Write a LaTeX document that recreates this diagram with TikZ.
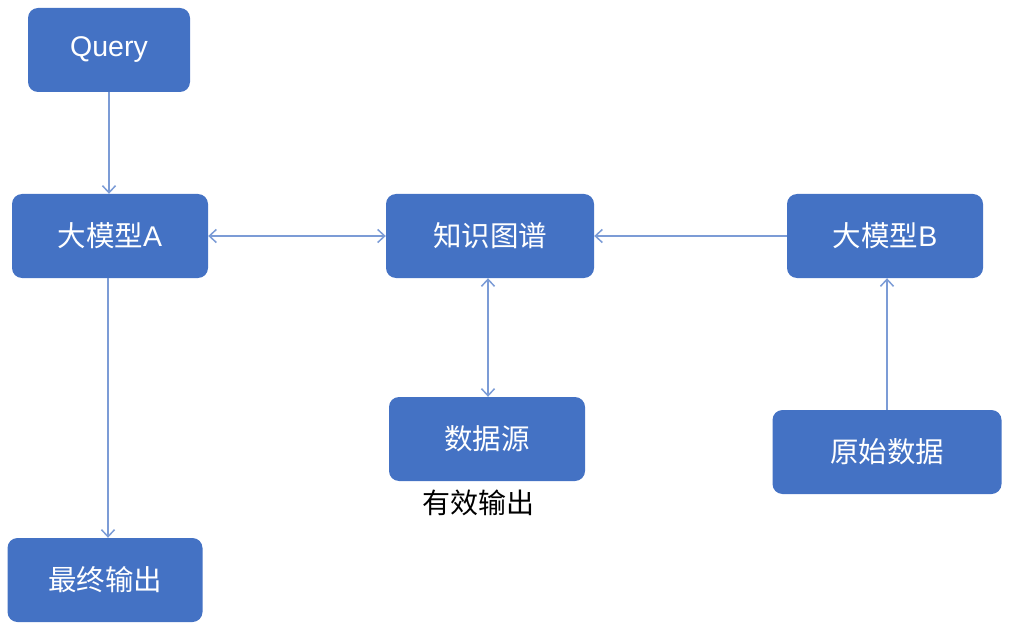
\documentclass[tikz,border=0pt]{standalone}
\usepackage{fontspec}
\setmainfont{Liberation Sans}
\newfontfamily\cjk{Noto Sans CJK SC}
\usetikzlibrary{arrows.meta,positioning}
\definecolor{boxblue}{RGB}{68,114,196}
\definecolor{lineblue}{RGB}{124,156,214}

\begin{document}
\begin{tikzpicture}[x=1pt, y=-1pt,
    box/.style={fill=boxblue, rounded corners=10pt, text=white, minimum height=84pt, inner sep=0pt, font=\fontsize{28.5}{32}\selectfont},
    link/.style={draw=lineblue, line width=1.5pt, -{Straight Barb[length=7pt,width=13pt]}},
    twoway/.style={link, {Straight Barb[length=7pt,width=13pt]}-{Straight Barb[length=7pt,width=13pt]}}]
  \useasboundingbox (0,0) rectangle (1014,628);
  % left column
  \node[box, minimum width=162pt] (query) at (109,50) {Query};
  \node[box, minimum width=196pt] (modelA) at (110,236) {\cjk 大模型\normalfont A};
  \node[box, minimum width=195pt] (final) at (105,580) {\cjk 最终输出};
  % middle
  \node[box, minimum width=208pt] (kg) at (490,236) {\cjk 知识图谱};
  \node[box, minimum width=196pt] (source) at (487,439) {\cjk 数据源};
  \node[below=5pt of source, font=\fontsize{28}{32}\selectfont\cjk, xshift=-9pt] (valid) {有效输出};
  % right
  \node[box, minimum width=196pt] (modelB) at (885,236) {\cjk 大模型\normalfont B};
  \node[box, minimum width=229pt] (raw) at (887,452) {\cjk 原始数据};

  \draw[link] (query) -- (query |- modelA.north);
  \draw[twoway] (modelA) -- (kg);
  \draw[link] (modelB) -- (kg);
  \draw[twoway] ([xshift=-2pt]kg.south) -- ([xshift=-2pt]kg.south |- source.north);
  \draw[link] (raw) -- (raw |- modelB.south);
  \draw[link] ([xshift=-2pt]modelA.south) -- ([xshift=-2pt]modelA.south |- final.north);
\end{tikzpicture}
\end{document}
